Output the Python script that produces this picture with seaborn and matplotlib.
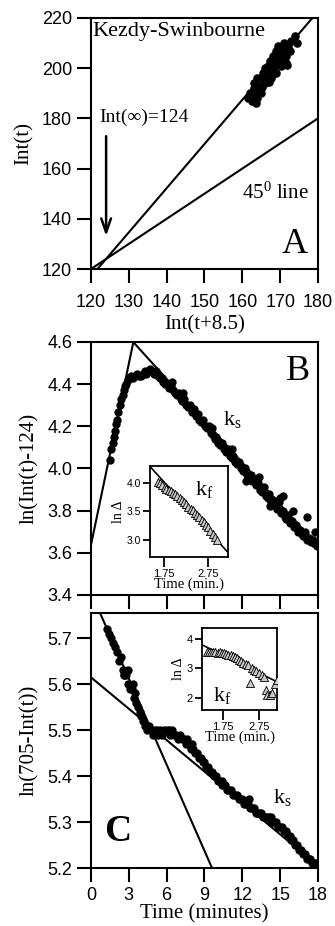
import numpy as np
import pandas as pd
import seaborn as sns
import matplotlib.pyplot as plt

sns.set_style('ticks')
plt.rcParams['font.family'] = ['Liberation Sans', 'DejaVu Sans']
plt.rcParams['mathtext.fontset'] = 'custom'
plt.rcParams['mathtext.rm'] = 'Liberation Serif'
plt.rcParams['mathtext.it'] = 'Liberation Serif:italic'
plt.rcParams['text.color'] = 'black'
plt.rcParams['axes.labelcolor'] = 'black'

SERIF = ['Liberation Serif', 'DejaVu Serif']

# ---- panel A : Kezdy-Swinbourne plot ----
ks_x = [161.5, 162.0, 162.5, 163.0, 163.0, 163.5, 163.2, 164.0, 164.0, 164.5,
        165.0, 165.0, 165.5, 165.8, 166.0, 166.0, 166.5, 166.8, 167.0, 167.2,
        167.5, 167.8, 168.0, 168.0, 168.3, 168.5, 168.8, 169.0, 169.2, 169.5,
        169.5, 170.0, 170.0, 170.2, 170.5, 171.0, 171.0, 171.5, 171.5, 172.0,
        172.5, 173.0, 174.0, 174.5, 169.0, 167.0, 163.8, 165.2, 168.6, 171.8]
ks_y = [188, 190, 187, 192, 189, 186, 194, 191, 188, 193,
        196, 190, 198, 195, 200, 194, 197, 201, 199, 203,
        196, 202, 205, 200, 198, 204, 207, 202, 206, 209,
        204, 208, 203, 201, 206, 207, 210, 205, 202, 209,
        207, 211, 213, 210, 198, 194.5, 196, 192.5, 198.5, 201.3]
ks_fit_x = [120, 180]
ks_fit_y = [117.0, 222.6]
diag_x = [120, 180]
diag_y = [120, 180]

# ---- panel B : ln(Int(t)-124) vs time ----
b_t = [1.50, 1.62, 1.72, 1.80, 1.88, 1.98, 2.06, 2.18, 2.30, 2.40, 2.50, 2.60,
       2.70, 2.80, 2.92, 3.05, 3.20, 3.35, 3.50, 3.65, 3.80, 3.95, 4.10, 4.25,
       4.40, 4.55, 4.70, 4.85, 5.00, 5.15, 5.30, 5.45, 5.60, 5.75, 5.90, 6.05,
       6.20, 6.35, 6.50, 6.65, 6.80, 6.95, 7.10, 7.25, 7.40, 7.55, 7.70, 7.85,
       8.00, 8.15, 8.30, 8.45, 8.60, 8.75, 8.90, 9.05, 9.20, 9.35, 9.50, 9.65,
       9.80, 9.95, 10.10, 10.25, 10.40, 10.55, 10.70, 10.85, 11.00, 11.15, 11.30,
       11.45, 11.60, 11.75, 11.90, 12.05, 12.20, 12.35, 12.50, 12.65, 12.80,
       12.95, 13.10, 13.25, 13.40, 13.55, 13.70, 13.85, 14.00, 14.15, 14.30,
       14.45, 14.60, 14.75, 14.90, 15.05, 15.20, 15.35, 15.50, 15.65, 15.80,
       15.95, 16.10, 16.25, 16.40, 16.55, 16.70, 16.85, 17.00, 17.15, 17.30,
       17.45, 17.60, 17.75, 17.90,
       6.40, 7.30, 9.60, 11.20, 13.30, 15.00, 15.25, 16.00, 17.10, 17.80, 12.30, 14.20]
b_y = [4.04, 4.09, 4.12, 4.15, 4.18, 4.21, 4.23, 4.27, 4.30, 4.33, 4.35, 4.37,
       4.39, 4.40, 4.42, 4.43, 4.44, 4.43, 4.44, 4.45, 4.44, 4.44, 4.45, 4.46,
       4.45, 4.46, 4.47, 4.46, 4.45, 4.46, 4.44, 4.43, 4.43, 4.41, 4.40, 4.40,
       4.38, 4.39, 4.37, 4.36, 4.35, 4.36, 4.33, 4.32, 4.33, 4.30, 4.29, 4.30,
       4.27, 4.28, 4.25, 4.26, 4.23, 4.22, 4.23, 4.20, 4.19, 4.20, 4.17, 4.16,
       4.14, 4.15, 4.12, 4.11, 4.12, 4.09, 4.08, 4.09, 4.06, 4.05, 4.06,
       4.03, 4.02, 4.03, 4.00, 3.99, 4.00, 3.97, 3.96, 3.97, 3.94,
       3.95, 3.92, 3.93, 3.90, 3.89, 3.91, 3.87, 3.86, 3.88, 3.84,
       3.85, 3.82, 3.81, 3.84, 3.79, 3.80, 3.77, 3.76, 3.78, 3.74,
       3.75, 3.72, 3.73, 3.70, 3.71, 3.69, 3.68, 3.70, 3.66, 3.67,
       3.65, 3.66, 3.64, 3.63,
       4.41, 4.36, 4.19, 4.09, 3.96, 3.86, 3.87, 3.80, 3.77, 3.70, 3.94, 3.82]
b_kf_x = [0.0, 3.5]
b_kf_y = [3.637, 4.64]
b_ks_x = [3.0, 18.0]
b_ks_y = [4.623, 3.63]

# inset B
bi_t = [1.60, 1.65, 1.70, 1.76, 1.80, 1.85, 1.90, 1.96, 2.00, 2.05, 2.10, 2.15,
        2.20, 2.25, 2.30, 2.35, 2.40, 2.45, 2.50, 2.55, 2.60, 2.65, 2.70, 2.75,
        2.80, 2.85, 2.90, 2.95]
bi_y = [4.02, 4.00, 3.97, 3.93, 3.90, 3.88, 3.86, 3.82, 3.80, 3.77, 3.73, 3.70,
        3.66, 3.63, 3.58, 3.55, 3.52, 3.47, 3.43, 3.40, 3.35, 3.32, 3.26, 3.22,
        3.15, 3.10, 3.05, 3.00]
bi_fit_x = [1.43, 3.2]
bi_fit_y = [4.29, 2.78]

# ---- panel C : ln(705-Int(t)) vs time ----
c_t = [1.30, 1.45, 1.60, 1.75, 1.90, 2.05, 2.20, 2.35, 2.50, 2.65, 2.80, 2.95,
       3.10, 3.25, 3.40, 3.55, 3.70, 3.85, 4.00, 4.15, 4.30, 4.45, 4.60, 4.75,
       4.90, 5.05, 5.20, 5.35, 5.50, 5.65, 5.80,
       6.00, 6.15, 6.30, 6.45, 6.60, 6.75, 6.90, 7.05, 7.20, 7.35, 7.50, 7.65,
       7.80, 7.95, 8.10, 8.25, 8.40, 8.55, 8.70, 8.85, 9.00, 9.15, 9.30, 9.45,
       9.60, 9.75, 9.90, 10.05, 10.20, 10.35, 10.50, 10.65, 10.80, 10.95, 11.10,
       11.25, 11.40, 11.55, 11.70, 11.85, 12.00, 12.15, 12.30, 12.45, 12.60,
       12.75, 12.90, 13.05, 13.20, 13.35, 13.50, 13.65, 13.80, 13.95, 14.10,
       14.25, 14.40, 14.55, 14.70, 14.85, 15.00, 15.15, 15.30, 15.45, 15.60,
       15.75, 15.90, 16.05, 16.20, 16.35, 16.50, 16.65, 16.80, 16.95, 17.10,
       17.25, 17.40, 17.55, 17.70, 17.85, 18.00,
       2.60, 2.90, 3.30, 3.50, 12.50, 14.30, 8.00, 10.40]
c_y = [5.72, 5.71, 5.70, 5.69, 5.68, 5.67, 5.65, 5.66, 5.63, 5.62, 5.62, 5.60,
       5.59, 5.59, 5.57, 5.56, 5.55, 5.54, 5.53, 5.52, 5.51, 5.50, 5.51, 5.50,
       5.49, 5.50, 5.50, 5.49, 5.50, 5.49, 5.50,
       5.50, 5.50, 5.49, 5.50, 5.49, 5.49, 5.48, 5.49, 5.48, 5.48, 5.47, 5.48,
       5.47, 5.46, 5.46, 5.45, 5.45, 5.44, 5.44, 5.43, 5.43, 5.42, 5.42, 5.41,
       5.41, 5.40, 5.40, 5.39, 5.39, 5.38, 5.38, 5.38, 5.37, 5.37, 5.37,
       5.36, 5.36, 5.36, 5.35, 5.35, 5.35, 5.34, 5.34, 5.34, 5.33,
       5.33, 5.33, 5.32, 5.32, 5.32, 5.32, 5.31, 5.31, 5.31, 5.31,
       5.30, 5.30, 5.30, 5.30, 5.29, 5.29, 5.29, 5.28, 5.28, 5.27,
       5.27, 5.26, 5.26, 5.25, 5.25, 5.24, 5.24, 5.23, 5.23, 5.22,
       5.22, 5.22, 5.21, 5.21, 5.21, 5.21,
       5.62, 5.63, 5.60, 5.58, 5.35, 5.31, 5.47, 5.39]
c_kf_x = [0.0, 9.6]
c_kf_y = [5.80, 5.20]
c_ks_x = [0.0, 18.0]
c_ks_y = [5.615, 5.205]

# inset C
ci_t = [1.30, 1.36, 1.42, 1.48, 1.54, 1.60, 1.66, 1.72, 1.78, 1.84, 1.90, 1.96,
        2.02, 2.08, 2.14, 2.20, 2.26, 2.32, 2.38, 2.44, 2.55, 2.62, 2.68, 2.75,
        2.82, 2.90, 2.50, 2.95, 2.98, 3.05, 3.12, 3.18, 3.25]
ci_y = [3.57, 3.56, 3.57, 3.55, 3.56, 3.54, 3.55, 3.52, 3.53, 3.50, 3.47, 3.45,
        3.42, 3.40, 3.35, 3.30, 3.26, 3.20, 3.15, 3.12, 3.02, 2.95, 2.90, 2.85,
        2.78, 2.72, 2.50, 2.28, 2.12, 2.10, 2.18, 2.48, 2.60]
ci_fit_x = [1.17, 3.25]
ci_fit_y = [3.80, 2.55]

time_ticks = [0, 3, 6, 9, 12, 15, 18]


def style_axes(ax, tick_len=10, label_size=13, lw=1.5, pad=3.5):
    for sp in ax.spines.values():
        sp.set_visible(True)
        sp.set_linewidth(lw)
        sp.set_color('black')
    ax.tick_params(direction='out', length=tick_len, width=lw, pad=pad,
                   labelsize=label_size, colors='black', top=False, right=False)


def dots(ax, x, y, s=36):
    sns.scatterplot(x=x, y=y, color='black', s=s, linewidth=0, ax=ax, zorder=3)


def fit_line(ax, x, y, lw=1.5):
    sns.lineplot(x=x, y=y, color='black', linewidth=lw, ax=ax, zorder=2,
                 estimator=None, sort=False)


def triangles(ax, x, y):
    sns.scatterplot(x=x, y=y, marker='^', color='#c8c8c8', edgecolor='black',
                    linewidth=0.6, s=34, ax=ax, zorder=3)


def inset_style(ax, ysize):
    style_axes(ax, tick_len=5, label_size=ysize, lw=1.3, pad=1.5)
    ax.tick_params(axis='x', length=7, labelsize=8, pad=1.5)


fig = plt.figure(figsize=(3.35, 9.26), dpi=100)

# ----- A -----
axA = fig.add_axes([0.2716, 0.7095, 0.6776, 0.2711])
fit_line(axA, ks_fit_x, ks_fit_y)
fit_line(axA, diag_x, diag_y)
dots(axA, ks_x, ks_y, s=38)
axA.set_xlim(120, 180)
axA.set_ylim(120, 220)
axA.set_xticks(np.arange(120, 181, 10))
axA.set_yticks(np.arange(120, 221, 20))
style_axes(axA)
axA.tick_params(axis='x', pad=8)
axA.set_xlabel('Int(t+8.5)', family=SERIF, fontsize=15, labelpad=3)
axA.set_ylabel('Int(t)', family=SERIF, fontsize=15, labelpad=6)
axA.text(0.008, 0.985, 'Kezdy-Swinbourne', transform=axA.transAxes,
         family=SERIF, fontsize=16, va='top', ha='left')
axA.text(122.2, 180.5, 'Int(\u221e)=124', family=SERIF, fontsize=14,
         va='center', ha='left')
axA.annotate('', xy=(124, 132), xytext=(124, 174),
             arrowprops=dict(arrowstyle='->,head_length=1.0,head_width=0.35',
                             color='black', lw=1.8))
axA.text(159.8, 150.3, r'45$\mathregular{^0}$ line', family=SERIF,
         fontsize=15, va='center', ha='left')
axA.text(173.9, 129.6, 'A', family=SERIF, fontsize=26, va='center',
         ha='center')

# ----- B -----
axB = fig.add_axes([0.2716, 0.3575, 0.6776, 0.2732])
fit_line(axB, b_kf_x, b_kf_y)
fit_line(axB, b_ks_x, b_ks_y)
dots(axB, b_t, b_y)
axB.set_xlim(0, 18)
axB.set_ylim(3.4, 4.6)
axB.set_xticks(time_ticks)
axB.set_xticklabels([])
axB.set_yticks(np.arange(3.4, 4.61, 0.2))
axB.set_yticklabels(['%.1f' % v for v in np.arange(3.4, 4.61, 0.2)])
style_axes(axB)
axB.set_ylabel('ln(Int(t)-124)', family=SERIF, fontsize=15, labelpad=6)
axB.text(10.5, 4.23, r'k$\mathregular{_s}$', family=SERIF, fontsize=16,
         va='center', ha='left')
axB.text(16.4, 4.46, 'B', family=SERIF, fontsize=26, va='center', ha='center')

axBi = fig.add_axes([0.4478, 0.3985, 0.2328, 0.0983])
axBi.set_facecolor('white')
fit_line(axBi, bi_fit_x, bi_fit_y, lw=1.2)
triangles(axBi, bi_t, bi_y)
axBi.set_xlim(1.43, 3.2)
axBi.set_ylim(2.7, 4.3)
axBi.set_xticks([1.75, 2.75])
axBi.set_xticklabels(['1.75', '2.75'])
axBi.set_yticks([3.0, 3.5, 4.0])
axBi.set_yticklabels(['3.0', '3.5', '4.0'])
inset_style(axBi, 7.5)
axBi.set_xlabel('Time (min.)', family=SERIF, fontsize=10.5, labelpad=-1)
axBi.set_ylabel('ln \u0394', family=SERIF, fontsize=10, labelpad=1)
axBi.text(2.45, 3.88, r'k$\mathregular{_f}$', family=SERIF, fontsize=16,
          va='center', ha='left')

# ----- C -----
axC = fig.add_axes([0.2716, 0.0626, 0.6776, 0.2754])
fit_line(axC, c_kf_x, c_kf_y)
fit_line(axC, c_ks_x, c_ks_y)
dots(axC, c_t, c_y)
axC.set_xlim(0, 18)
axC.set_ylim(5.2, 5.755)
axC.set_xticks(time_ticks)
axC.set_yticks(np.arange(5.2, 5.71, 0.1))
axC.set_yticklabels(['%.1f' % v for v in np.arange(5.2, 5.71, 0.1)])
style_axes(axC)
axC.set_xlabel('Time (minutes)', family=SERIF, fontsize=15, labelpad=0)
axC.set_ylabel('ln(705-Int(t))', family=SERIF, fontsize=15, labelpad=6)
axC.text(14.4, 5.354, r'k$\mathregular{_s}$', family=SERIF, fontsize=16,
         va='center', ha='left')
axC.text(2.15, 5.28, 'C', family=SERIF, fontsize=27, fontweight='bold',
         va='center', ha='center')

axCi = fig.add_axes([0.603, 0.2333, 0.224, 0.0886])
axCi.set_facecolor('white')
fit_line(axCi, ci_fit_x, ci_fit_y, lw=1.2)
triangles(axCi, ci_t, ci_y)
axCi.set_xlim(1.17, 3.25)
axCi.set_ylim(1.6, 4.37)
axCi.set_xticks([1.75, 2.75])
axCi.set_xticklabels(['1.75', '2.75'])
axCi.set_yticks([2, 3, 4])
inset_style(axCi, 8)
axCi.set_xlabel('Time (min.)', family=SERIF, fontsize=10.5, labelpad=-1)
axCi.set_ylabel('ln \u0394', family=SERIF, fontsize=10, labelpad=1)
axCi.text(1.48, 2.1, r'k$\mathregular{_f}$', family=SERIF, fontsize=16,
          va='center', ha='left')

fig.savefig('out.png', dpi=100)
